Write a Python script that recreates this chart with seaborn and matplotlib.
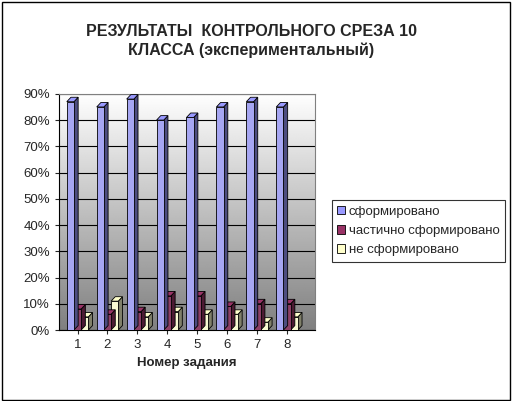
import numpy as np
import pandas as pd
import matplotlib
matplotlib.use('Agg')
import matplotlib.pyplot as plt
import seaborn as sns
from matplotlib.patches import Polygon, Rectangle
from matplotlib.ticker import PercentFormatter

# data
tasks = ['1', '2', '3', '4', '5', '6', '7', '8']
formed = [87, 85, 88, 80, 81, 85, 87, 85]
partly = [8, 6, 7, 13, 13, 9, 10, 10]
not_formed = [5, 11, 5, 7, 6, 6, 3, 5]
series = ['сформировано', 'частично сформировано', 'не сформировано']
colors = ['#9999ff', '#993366', '#ffffcc']
side_colors = ['#4d4d80', '#4d1a33', '#80806a']

df = pd.DataFrame({'task': tasks * 3,
                   'value': formed + partly + not_formed,
                   'series': np.repeat(series, len(tasks))})

sns.set_style('white')
plt.rcParams['font.family'] = ['Liberation Sans', 'DejaVu Sans']

fig = plt.figure(figsize=(5.13, 4.01), dpi=100)
fig.patches.append(Rectangle((0.003, 0.003), 0.992, 0.992, transform=fig.transFigure,
                             fill=False, edgecolor='black', lw=1))
ax = fig.add_axes([0.115, 0.177, 0.5, 0.589])

x_lo, x_hi = -0.62, 7.95

# gradient back wall
grad = np.linspace(0.5, 1.0, 256).reshape(-1, 1)
ax.imshow(grad, cmap='gray', vmin=0, vmax=1, aspect='auto', origin='lower',
          extent=[x_lo, x_hi, 0, 90], zorder=0)

sns.barplot(data=df, x='task', y='value', hue='series', palette=colors,
            width=0.72, edgecolor='black', linewidth=0.6, ax=ax, legend=False, zorder=3)

# dark side faces and tops for a 3D look
d, dy = 0.14, 1.7
for i, cont in enumerate(ax.containers):
    for p in cont:
        x0 = p.get_x()
        w = p.get_width()
        h = p.get_height()
        ax.add_patch(Polygon([[x0 + w, 0], [x0 + w + d, dy], [x0 + w + d, h + dy], [x0 + w, h]],
                             closed=True, facecolor=side_colors[i], edgecolor='black', lw=0.6,
                             zorder=3 - 0.1 * i))
        ax.add_patch(Polygon([[x0, h], [x0 + d, h + dy], [x0 + w + d, h + dy], [x0 + w, h]],
                             closed=True, facecolor=colors[i], edgecolor='black', lw=0.6,
                             zorder=3 - 0.1 * i))
        p.set_zorder(3.05 - 0.1 * i)

ax.set_xlim(x_lo, x_hi)
ax.set_ylim(0, 90)
ax.set_yticks(range(0, 91, 10))
ax.yaxis.set_major_formatter(PercentFormatter(decimals=0))
ax.grid(axis='y', color='black', lw=0.8, zorder=1)
ax.set_axisbelow(True)
for s in ['top', 'right']:
    ax.spines[s].set_color('#808080')
    ax.spines[s].set_linewidth(0.8)
for s in ['left', 'bottom']:
    ax.spines[s].set_color('black')
    ax.spines[s].set_linewidth(0.8)
ax.tick_params(axis='both', labelsize=9.5, length=3, direction='out', left=True, bottom=True)
ax.set_xlabel('Номер задания', fontsize=9.5, fontweight='bold')
ax.set_ylabel('')

fig.text(0.49, 0.898, 'РЕЗУЛЬТАТЫ  КОНТРОЛЬНОГО СРЕЗА 10\nКЛАССА (экспериментальный)',
         ha='center', va='center', fontsize=11.5, fontweight='bold', linespacing=1.3)

handles = [Rectangle((0, 0), 1, 1, facecolor=c, edgecolor='black', lw=0.6) for c in colors]
leg = fig.legend(handles, series, loc='center', bbox_to_anchor=(0.815, 0.424), fontsize=9.5,
                 frameon=True, fancybox=False, edgecolor='black', handlelength=0.6,
                 handleheight=0.6, handletextpad=0.3, borderpad=0.4, labelspacing=0.55)
leg.get_frame().set_linewidth(0.8)

plt.savefig('out.png', dpi=100)
